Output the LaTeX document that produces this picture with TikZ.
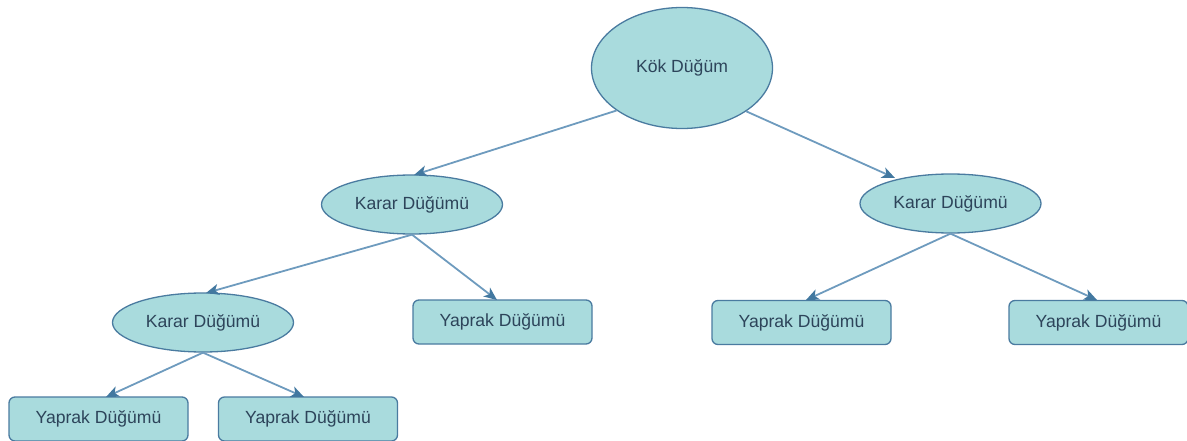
\documentclass[tikz,border=0pt]{standalone}
\usepackage{fontspec}
\setmainfont{Liberation Sans}
\usetikzlibrary{shapes.geometric,arrows.meta}
\definecolor{nodefill}{RGB}{169,219,221}
\definecolor{nodeline}{RGB}{74,123,160}
\definecolor{edgeline}{RGB}{110,155,190}
\definecolor{tiplc}{RGB}{66,120,160}
\definecolor{textc}{RGB}{45,68,90}
\tikzset{
  base/.style={fill=nodefill, draw=nodeline, line width=1.3pt, text=textc,
    font=\fontsize{17.6}{20}\selectfont, inner sep=0pt},
  oval/.style={base, ellipse, minimum width=181pt, minimum height=59pt},
  rootoval/.style={base, ellipse, minimum width=181pt, minimum height=121pt},
  leaf/.style={base, rectangle, rounded corners=6pt, minimum width=179pt, minimum height=44pt},
  link/.style={draw=edgeline, line width=1.8pt,
    -{Stealth[length=13pt,width=11pt,inset=3.5pt,color=tiplc]}}
}
\begin{document}
\begin{tikzpicture}[x=1pt,y=-1pt]
\useasboundingbox (0,0) rectangle (1187,441);

% nodes
\node[rootoval] (root) at (682,68) {Kök Düğüm};
\node[oval] (kl)  at (412,204.5) {Karar Düğümü};
\node[oval] (kr)  at (950.5,203.5) {Karar Düğümü};
\node[oval] (kll) at (203,322.5) {Karar Düğümü};
\node[leaf] (ll1) at (98.5,419) {Yaprak Düğümü};
\node[leaf] (ll2) at (308,419) {Yaprak Düğümü};
\node[leaf] (lm)  at (502.5,322) {Yaprak Düğümü};
\node[leaf] (lr1) at (801.5,322.5) {Yaprak Düğümü};
\node[leaf] (lr2) at (1098.5,322.5) {Yaprak Düğümü};

% entry points on the target nodes
\coordinate (tkl)  at (414,175);
\coordinate (tkr)  at (895,178);
\coordinate (tkll) at (206,293);
\coordinate (tlm)  at (497,300);
\coordinate (tll1) at (106,397);
\coordinate (tll2) at (304,397);
\coordinate (tlr1) at (806,300);
\coordinate (tlr2) at (1097,300);

% connectors
\draw[link] (root.213) -- (tkl);
\draw[link] (root.326) -- (tkr);
\draw[link] (kl.south) -- (tkll);
\draw[link] (kl.south) -- (tlm);
\draw[link] (kll.south) -- (tll1);
\draw[link] (kll.south) -- (tll2);
\draw[link] (kr.south) -- (tlr1);
\draw[link] (kr.south) -- (tlr2);
\end{tikzpicture}
\end{document}
